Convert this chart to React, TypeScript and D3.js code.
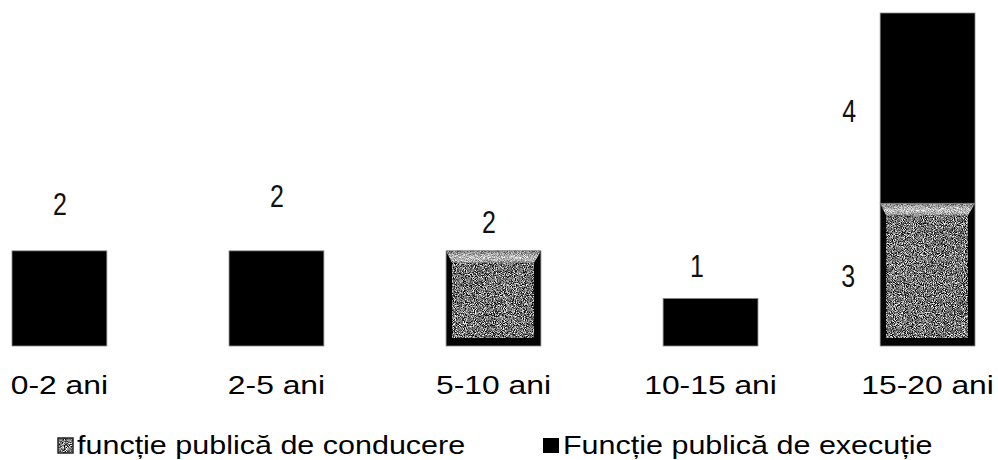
import React from "react";
import * as d3 from "d3";

const categories = ["0-2 ani", "2-5 ani", "5-10 ani", "10-15 ani", "15-20 ani"];
const conducere = [0, 0, 2, 0, 3];
const executie = [2, 2, 0, 1, 4];
const seriesNames = ["funcție publică de conducere", "Funcție publică de execuție"];

// manual label nudges (layout only): [dx, dy] relative to segment top / band centre
const conducereLabelNudge: ([number, number] | null)[] = [null, null, [-4.5, -18], null, [-79.5, 84]];
const executieLabelNudge: ([number, number] | null)[] = [[0.5, -36], [0.5, -44], null, [-13.5, -21.5], [-78.5, 109]];

const W = 998;
const H = 460;

export default function App() {
  const x = d3.scaleBand<string>().domain(categories).range([12, 975]).paddingInner(0.563).paddingOuter(0);
  const y = d3.scaleLinear().domain([0, 7]).range([346, 13]);

  const stackData = categories.map((c, i) => ({ cat: c, conducere: conducere[i], executie: executie[i] }));
  const stack = d3.stack<any>().keys(["conducere", "executie"])(stackData);

  const labelFont = "'Liberation Sans', Arial, sans-serif";
  const textFont = "'Liberation Sans', Arial, Helvetica, sans-serif";

  const greyBar = (key: string, x0: number, x1: number, yt: number, yb: number) => {
    const sx = 6, sr = 7, st = 12, sb = 8;
    const trap = `M${x0},${yt} L${x1},${yt} L${x1 - sr},${yt + st} L${x0 + sx},${yt + st} Z`;
    return (
      <g key={key}>
        <rect x={x0} y={yt} width={x1 - x0} height={yb - yt} fill="#050505" stroke="#8a8a8a" strokeWidth={0.8} />
        <rect x={x0 + sx} y={yt + st} width={x1 - x0 - sx - sr} height={yb - yt - st - sb} fill="#000" filter="url(#grain)" />
        <path d={trap} fill="url(#topHl)" />
        <path d={trap} fill="#000" filter="url(#grainHl)" opacity={0.45} />
      </g>
    );
  };

  const blackBar = (key: string, x0: number, x1: number, yt: number, yb: number) => (
    <rect key={key} x={x0} y={yt} width={x1 - x0} height={yb - yt} fill="#000" stroke="#8a8a8a" strokeWidth={0.8} />
  );

  return (
    <svg width={W} height={H} style={{ position: "absolute", left: 0, top: 0, background: "#fff" }}>
      <defs>
        <filter id="grain" x="0" y="0" width="100%" height="100%" colorInterpolationFilters="sRGB">
          <feTurbulence type="fractalNoise" baseFrequency="1.1" numOctaves={1} seed={4} result="n" />
          <feColorMatrix in="n" type="matrix" values="2.6 0 0 0 -0.85  2.6 0 0 0 -0.85  2.6 0 0 0 -0.85  0 0 0 0 1" result="g" />
          <feComposite in="g" in2="SourceGraphic" operator="in" />
        </filter>
        <filter id="grainHl" x="0" y="0" width="100%" height="100%" colorInterpolationFilters="sRGB">
          <feTurbulence type="fractalNoise" baseFrequency="1.3" numOctaves={1} seed={7} result="n" />
          <feColorMatrix in="n" type="matrix" values="3 0 0 0 -1  3 0 0 0 -1  3 0 0 0 -1  0 0 0 0 1" result="g" />
          <feComposite in="g" in2="SourceGraphic" operator="in" />
        </filter>
        <linearGradient id="topHl" x1="0" y1="0" x2="0" y2="1">
          <stop offset="0" stopColor="#7a7a7a" />
          <stop offset="0.55" stopColor="#ffffff" />
          <stop offset="1" stopColor="#a8a8a8" />
        </linearGradient>
        <filter id="grainIcon" x="0" y="0" width="100%" height="100%" colorInterpolationFilters="sRGB">
          <feTurbulence type="fractalNoise" baseFrequency="1.1" numOctaves={1} seed={2} result="n" />
          <feColorMatrix in="n" type="matrix" values="2.6 0 0 0 -0.8  2.6 0 0 0 -0.8  2.6 0 0 0 -0.8  0 0 0 0 1" result="g" />
          <feComposite in="g" in2="SourceGraphic" operator="in" />
        </filter>
      </defs>

      {/* bars */}
      {stack.map((layer) =>
        layer.map((seg, i) => {
          const v = seg[1] - seg[0];
          if (v <= 0) return null;
          const cat = categories[i];
          const x0 = x(cat)!;
          const x1 = x0 + x.bandwidth();
          const yt = y(seg[1]);
          const yb = y(seg[0]);
          return layer.key === "conducere"
            ? greyBar(`${layer.key}-${i}`, x0, x1, yt, yb)
            : blackBar(`${layer.key}-${i}`, x0, x1, yt, yb);
        })
      )}

      {/* data labels */}
      {stack.map((layer) =>
        layer.map((seg, i) => {
          const v = seg[1] - seg[0];
          if (v <= 0) return null;
          const nudge = layer.key === "conducere" ? conducereLabelNudge[i] : executieLabelNudge[i];
          if (!nudge) return null;
          const cx = x(categories[i])! + x.bandwidth() / 2 + nudge[0];
          const cy = y(seg[1]) + nudge[1];
          return (
            <g key={`lbl-${layer.key}-${i}`} transform={`translate(${cx},${cy}) scale(0.78,1)`}>
              <text x={0} y={0} textAnchor="middle" fontFamily={labelFont} fontSize={32} fill="#111">
                {v}
              </text>
            </g>
          );
        })
      )}

      {/* category labels */}
      {categories.map((c) => (
        <g key={c} transform={`translate(${x(c)! + x.bandwidth() / 2},394) scale(1.2,1)`}>
          <text x={0} y={0} textAnchor="middle" fontFamily={textFont} fontSize={26.5} fill="#000">
            {c}
          </text>
        </g>
      ))}

      {/* legend */}
      <g>
        <rect x={58} y={438} width={15} height={15} fill="#000" filter="url(#grainIcon)" />
        <rect x={58} y={438} width={15} height={15} fill="none" stroke="#222" strokeWidth={1.5} />
        <g transform="translate(77,454) scale(1.22,1)">
          <text x={0} y={0} fontFamily={textFont} fontSize={25} fill="#000">{seriesNames[0]}</text>
        </g>
        <rect x={543} y={438} width={16} height={15} fill="#000" />
        <g transform="translate(563,454) scale(1.22,1)">
          <text x={0} y={0} fontFamily={textFont} fontSize={25} fill="#000">{seriesNames[1]}</text>
        </g>
      </g>
    </svg>
  );
}
